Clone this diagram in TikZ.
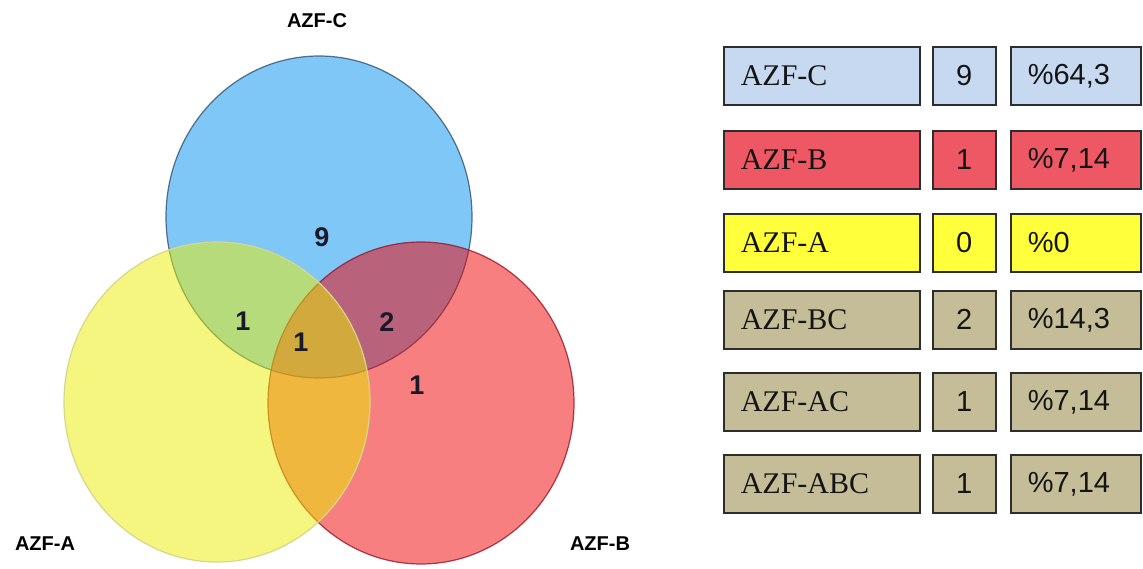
\documentclass[tikz,border=0pt]{standalone}
\usepackage{fontspec}
\setmainfont{Liberation Serif}
\newfontfamily\arial{Liberation Sans}
\definecolor{cblue}{RGB}{0,145,241}
\definecolor{cred}{RGB}{241,0,0}
\definecolor{cyel}{RGB}{235,239,0}
\definecolor{eblue}{RGB}{50,80,110}
\definecolor{ered}{RGB}{150,20,40}
\definecolor{eyel}{RGB}{215,215,140}
\definecolor{tblue}{RGB}{198,217,240}
\definecolor{tred}{RGB}{238,88,100}
\definecolor{tyel}{RGB}{255,255,60}
\definecolor{ttan}{RGB}{196,189,151}
\definecolor{tborder}{RGB}{45,45,45}
\definecolor{numtext}{RGB}{25,25,40}
\definecolor{ttext}{RGB}{20,20,20}
\begin{document}
\begin{tikzpicture}[x=1pt,y=-1pt,
  setfill/.style={fill opacity=0.5},
  vlabel/.style={font=\arial\bfseries\fontsize{20}{22}\selectfont, text=black},
  vnum/.style={font=\arial\bfseries\fontsize{27}{29}\selectfont, text=numtext},
  cell/.style={draw=tborder, line width=1.6pt, anchor=north west, minimum height=58pt, inner ysep=0pt, text=ttext},
  labcell/.style={cell, text width=162pt, inner xsep=17pt, align=left, font=\fontsize{30}{32}\selectfont},
  numcell/.style={cell, minimum width=63pt, inner xsep=0pt, font=\arial\fontsize{29}{31}\selectfont},
  pctcell/.style={cell, text width=96pt, inner xsep=17pt, align=left, font=\arial\fontsize{29}{31}\selectfont}
]
\useasboundingbox (0,0) rectangle (1143,569);
\fill[white] (0,0) rectangle (1143,569);
% Venn
\fill[cblue, setfill] (319,217) ellipse [x radius=153pt, y radius=161pt];
\draw[eblue, line width=1.2pt, draw opacity=0.8] (319,217) ellipse [x radius=153pt, y radius=161pt];
\fill[cred, setfill] (421,403) ellipse [x radius=153pt, y radius=161pt];
\draw[ered, line width=1.2pt, draw opacity=0.8] (421,403) ellipse [x radius=153pt, y radius=161pt];
\fill[cyel, setfill] (217,402) ellipse [x radius=153pt, y radius=160pt];
\draw[eyel, line width=1.2pt] (217,402) ellipse [x radius=153pt, y radius=160pt];
\node[vlabel] (lc) at (317,21) {AZF-C};
\node[vlabel] (la) at (45,544) {AZF-A};
\node[vlabel] (lb) at (600,544) {AZF-B};
\node[vnum] (n9) at (322,237) {9};
\node[vnum] (nac) at (243,321) {1};
\node[vnum] (nabc) at (301,342) {1};
\node[vnum] (nbc) at (387,322) {2};
\node[vnum] (nb) at (417,385) {1};
% Table
\foreach \yy/\lab/\num/\pct/\col [count=\i] in {46/AZF-C/9/{\%64,3}/tblue, 130/AZF-B/1/{\%7,14}/tred, 213/AZF-A/0/{\%0}/tyel, 290/AZF-BC/2/{\%14,3}/ttan, 372/AZF-AC/1/{\%7,14}/ttan, 454/AZF-ABC/1/{\%7,14}/ttan}{
  \node[labcell, fill=\col] (l\i) at (723,\yy) {\lab};
  \node[numcell, fill=\col] (n\i) at (932,\yy) {\num};
  \node[pctcell, fill=\col] (p\i) at (1010,\yy) {\pct};
}
\end{tikzpicture}
\end{document}
